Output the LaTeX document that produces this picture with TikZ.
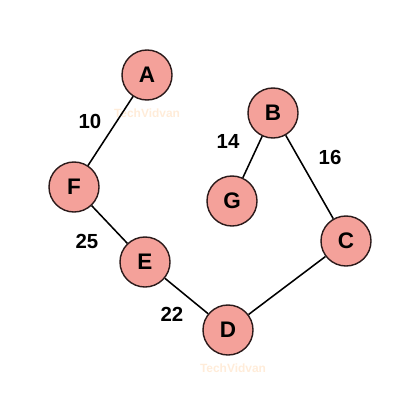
\documentclass[tikz,border=0pt]{standalone}
\usepackage{fontspec}
\setmainfont{Liberation Sans}
\usetikzlibrary{positioning}

\definecolor{vertfill}{HTML}{F4A19A}
\definecolor{vertline}{HTML}{2B1A1A}

\begin{document}
\begin{tikzpicture}[
    x=0.025cm, y=-0.025cm,
    vertex/.style={circle, draw=vertline, fill=vertfill, line width=1pt,
                   minimum size=1.25cm, inner sep=0pt, font=\fontsize{16}{18}\selectfont\bfseries},
    weight/.style={font=\fontsize{14.5}{16}\selectfont\bfseries},
    mark text/.style={font=\fontsize{8.5}{9}\selectfont\bfseries, text=orange!15},
    link/.style={line width=1.1pt, black}
]
    \useasboundingbox (0,0) rectangle (420,420);

    % watermark
    \node[mark text] (wm1) at (147,113) {TechVidvan};
    \node[mark text] (wm2) at (233,368) {TechVidvan};

    % vertices
    \node[vertex] (A) at (147,75) {A};
    \node[vertex] (B) at (273,113) {B};
    \node[vertex] (G) at (232,201) {G};
    \node[vertex] (F) at (74,187) {F};
    \node[vertex] (C) at (346,241) {C};
    \node[vertex] (E) at (145,262) {E};
    \node[vertex] (D) at (228,330) {D};

    % edges
    \draw[link] (A) -- (F);
    \draw[link] (B) -- (G);
    \draw[link] (B) -- (C);
    \draw[link] (F) -- (E);
    \draw[link] (E) -- (D);
    \draw[link] (D) -- (C);

    % weights
    \node[weight] (w10) at (90,121) {10};
    \node[weight] (w14) at (228,141) {14};
    \node[weight] (w16) at (330,157) {16};
    \node[weight] (w25) at (87,241) {25};
    \node[weight] (w22) at (172,314) {22};
\end{tikzpicture}
\end{document}
